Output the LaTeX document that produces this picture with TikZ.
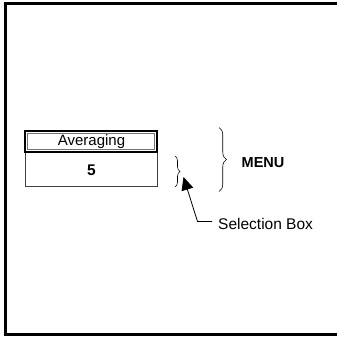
\documentclass[tikz,border=0pt]{standalone}
\usepackage{fontspec}
\setmainfont{Liberation Sans}
\usetikzlibrary{arrows.meta,decorations.pathreplacing}
\begin{document}
\begin{tikzpicture}[x=1pt,y=-1pt,
  lbl/.style={inner sep=0pt,font=\fontsize{15}{16}\selectfont},
  blbl/.style={inner sep=0pt,font=\fontsize{14.5}{16}\selectfont\bfseries},
  bracestyle/.style={decorate,decoration={brace,amplitude=#1},line width=0.6pt},
  frame/.style={line width=3pt,line cap=butt}]
\useasboundingbox (0,0) rectangle (337,338);
% frame
\draw[frame] (337,3.5) -- (5.5,3.5) -- (5.5,334.5) -- (337,334.5);
% menu box
\draw[line width=0.8pt,black!75] (25,152) rectangle (157,186);
\draw[line width=1.6pt] (25,131) rectangle (157,152);
\draw[line width=0.6pt,black!55] (27.6,133.6) rectangle (154.4,149.4);
\node[lbl] (avg) at (91.5,142) {Averaging};
\node[inner sep=0pt,font=\fontsize{15.5}{16}\selectfont\bfseries] (val) at (91.5,170) {5};
% braces
\coordinate (sbt) at (175,156);
\coordinate (sbb) at (175,187);
\draw[bracestyle=5pt] (sbt) -- (sbb);
\coordinate (bbt) at (219,127.5);
\coordinate (bbb) at (219,191.5);
\draw[bracestyle=7.5pt] (bbt) -- (bbb);
\node[blbl,anchor=west] (menu) at (241.5,163) {MENU};
% selection box label and arrow
\node[inner sep=0pt,anchor=west,font=\fontsize{15.5}{16}\selectfont] (sel) at (218,224) {Selection Box};
\coordinate (elbow) at (197.5,221.5);
\coordinate (tip) at (183.5,177);
\draw[line width=0.8pt] (sel.west |- elbow) ++(-6,0) coordinate (selend) -- (elbow)
  -- (tip) [-{Triangle[length=13pt,width=12pt]}];
\end{tikzpicture}
\end{document}
